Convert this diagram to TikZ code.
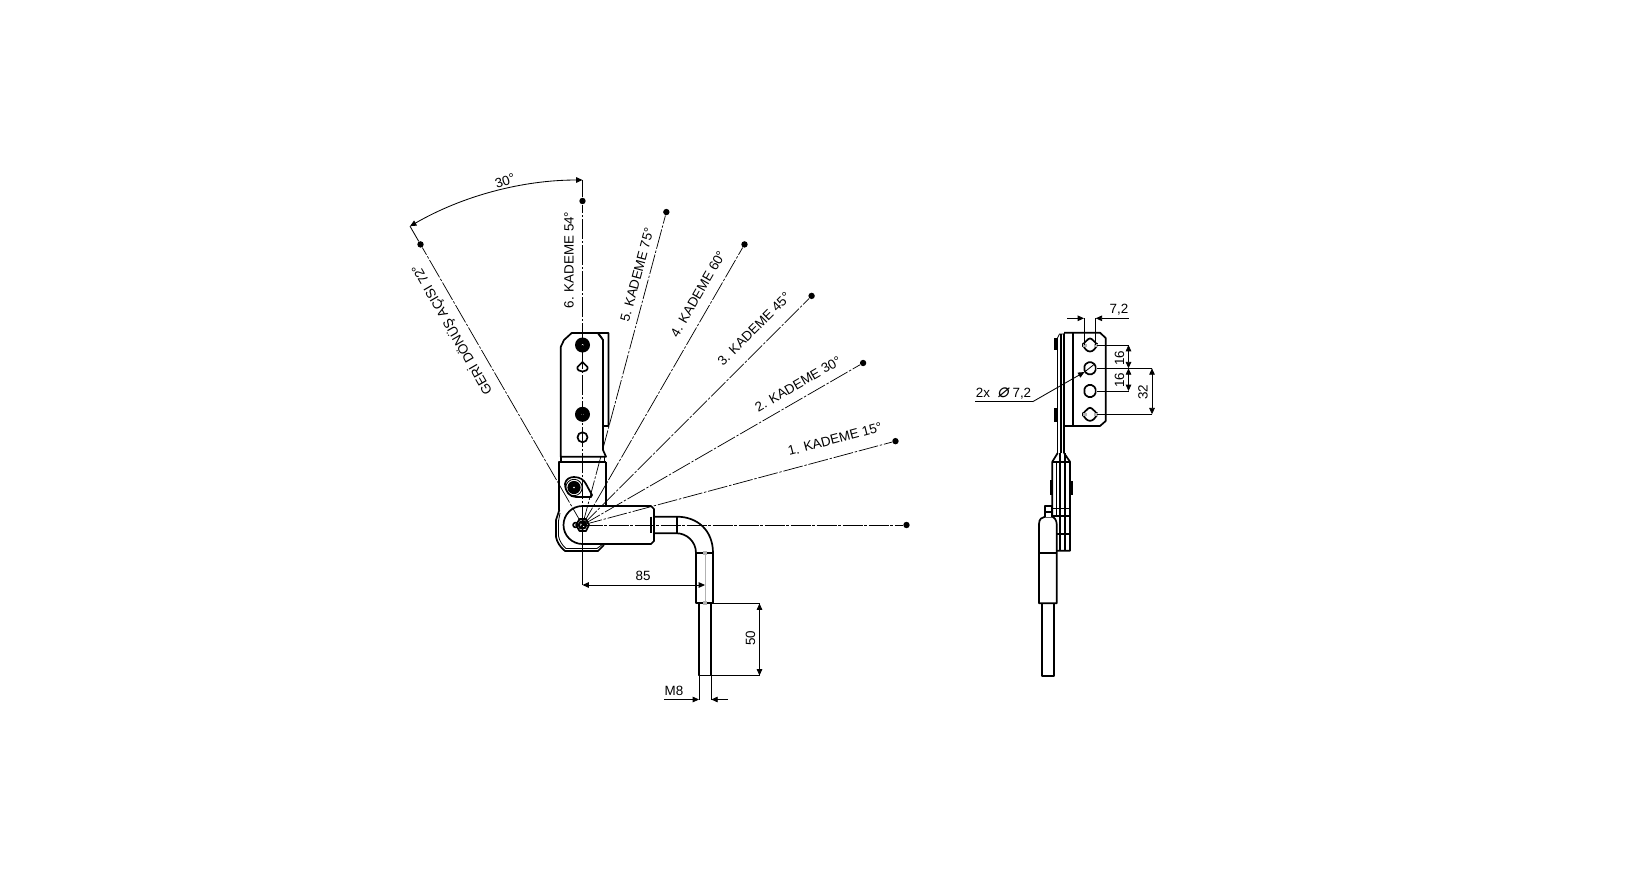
\documentclass[tikz,border=0pt]{standalone}
\usepackage{fontspec}
\setmainfont{Liberation Sans}
\newfontfamily\symfont[FakeSlant=0.2]{DejaVu Sans}
\usetikzlibrary{arrows.meta,calc}
\tikzset{
  thickl/.style={line width=0.85pt,line join=round},
  thinl/.style={line width=0.42pt},
  center/.style={line width=0.36pt,dash pattern=on 10pt off 0.9pt on 1.2pt off 0.9pt},
  dimn/.style={line width=0.42pt,{Triangle[length=3.2pt,width=2.8pt]}-{Triangle[length=3.2pt,width=2.8pt]}},
  onear/.style={line width=0.42pt,-{Triangle[length=3.2pt,width=2.8pt]}},
  lab/.style={inner sep=0pt,font=\fontsize{6.7}{7}\selectfont},
  gdot/.style={fill=black!30,draw=none},
  bdot/.style={circle,fill=black,inner sep=0pt,minimum size=3.2pt}
}
\begin{document}
\begin{tikzpicture}[x=0.5pt,y=-0.5pt]
\useasboundingbox (0,0) rectangle (1645,873);
\coordinate (piv) at (582.5,525);
\path (piv) ++(0:324) node[bdot] (d0) {};
\path (piv) ++(-15:324) node[bdot] (d1) {};
\path (piv) ++(-30:324) node[bdot] (d2) {};
\path (piv) ++(-45:324) node[bdot] (d3) {};
\path (piv) ++(-60:324) node[bdot] (d4) {};
\path (piv) ++(-75:324) node[bdot] (d5) {};
\path (piv) ++(-90:324) node[bdot] (d6) {};
\path (piv) ++(-120:324) node[bdot] (d7) {};
\path (piv) ++(-90:345) coordinate (a6);
\path (piv) ++(-120:345) coordinate (a7);
% radial centre lines
\foreach \n in {d1,d2,d3,d4,d5,d7} \draw[center] (piv) -- (\n);
% hinge plate (hides the radial lines)
\draw[thickl,fill=white] (603,340) -- (598,333) -- (608.5,333) -- (608.5,426) -- (603,426);
\draw[thickl,fill=white] (560.7,456.7) -- (560.7,347) -- (564,340) -- (571.7,333) -- (598,333) -- (603,340) -- (603,450) -- (606,456.7) -- cycle;
\draw[thinl] (598,334) -- (603,340);
\draw[thickl] (606,461.7) -- (606,506);
\draw[thickl] (559.3,510) -- (559.3,461.7) -- (606,461.7);
\draw[thickl] (561,461.7) -- (561,456.7);
\draw[thickl] (604.5,461.7) -- (604.5,456.7);
% lower body
\draw[thickl] (559.3,510) -- (556,520) -- (556,537) .. controls (557,542) and (560,547) .. (565,551) -- (598,551) -- (604,545);
\draw[thinl] (560,513) -- (558.5,521) -- (558.5,536) .. controls (559.5,541) and (562,545) .. (566,548.5) -- (597,548.5) -- (603,544);
% slotted arm
\draw[thickl] (582.5,506) -- (651,506) -- (654,509) -- (654,541) -- (651,544) -- (582.5,544) .. controls (572,544) and (563.5,535.5) .. (563.5,525) .. controls (563.5,514.5) and (572,506) .. (582.5,506);
% cam
\draw[thickl] (565,483.5) .. controls (566,479) and (570,477) .. (574,477) .. controls (580,477) and (584,480) .. (586,484) -- (592,495) -- (591,497) -- (576,497) .. controls (570,497) and (565,492) .. (565,483.5);
\fill (574,487.5) circle[radius=6.6];
\draw[thinl] (574,487.5) circle[radius=8.2];
\fill[white] (574,487.5) circle[radius=0.9];
% pivot nut
\draw[thickl] (589,525) -- (586,519) -- (579.5,519) -- (576,525) -- (579.5,531) -- (586,531) -- cycle;
\draw[line width=1.1pt] (582.5,525) circle[radius=3.6];
\draw[thickl] (575.5,525) circle[radius=2.4];
\draw[thickl] (585,521) -- (580,529);
% plate holes
\fill (582.5,345) circle[radius=7.5];
\fill (582.5,414.3) circle[radius=7.5];
\fill[white] (582.5,345) circle[radius=1];
\fill[white] (582.5,414.3) circle[radius=1];
\draw[thickl] (582.5,362) -- (587.5,367) .. controls (589,373) and (576,373) .. (577.5,367) -- cycle;
\draw[thickl] (582.5,437.3) circle[radius=5];
% rod
\draw[thickl] (654,516.7) -- (677,516.7) .. controls (697,516.7) and (713,530) .. (713,553) -- (713,603) -- (696,603) -- (696,553) .. controls (696,541) and (686,533.3) .. (677,533.3) -- (654,533.3);
\draw[thickl] (676.7,516.7) -- (676.7,533.3);
\draw[thickl] (651,516.7) -- (651,533.3);
\draw[thickl] (696,553) -- (713,553);
\draw[thickl] (699,603) -- (699,675.5) -- (711.3,675.5) -- (711.3,603);
\draw[line width=0.4pt,black!30] (705,553) -- (705,603);
\fill[gdot] (703,551) rectangle (707,555);
\fill[gdot] (703,601) rectangle (707,605);
% axes on top
\draw[center] (piv) -- (d0);
\draw[center] (piv) -- (d6);
\draw[thinl] (d6) -- (a6);
\draw[thinl] (d7) -- (a7);
\draw[thinl] (piv) -- (582.5,585);
% arc dimension
\draw[dimn] (a6) arc[start angle=-90,end angle=-120,radius=345];
\node[lab,rotate=18] (t30) at (505,181) {30°};
% labels
\node[lab,rotate=120] (t7) at (452,329.5) {GERİ DÖNÜŞ AÇISI 72°};
\node[lab,rotate=90] (t6) at (569,260) {6. KADEME 54°};
\node[lab,rotate=75] (t5) at (637,275) {5. KADEME 75°};
\node[lab,rotate=60] (t4) at (698,294) {4. KADEME 60°};
\node[lab,rotate=45] (t3) at (754,329) {3. KADEME 45°};
\node[lab,rotate=30] (t2) at (798,384) {2. KADEME 30°};
\node[lab,rotate=15] (t1) at (835,439) {1. KADEME 15°};
% 85
\coordinate (e85) at (705,585);
\coordinate (s85) at (582.5,585);
\draw[dimn] (s85) -- (e85);
\node[lab] (t85) at (643,576) {85};
% 50
\coordinate (u50) at (759.5,603.5);
\coordinate (l50) at (759.5,675.5);
\draw[thinl] (713,603.5) -- (u50);
\draw[thinl] (711.3,675.5) -- (l50);
\draw[dimn] (u50) -- (l50);
\node[lab,rotate=90] (t50) at (750.5,638) {50};
% M8
\coordinate (m1) at (699,699.5);
\coordinate (m2) at (711.3,699.5);
\coordinate (m0) at (664,699.5);
\coordinate (m3) at (728,699.5);
\draw[thinl] (699,675.5) -- (m1);
\draw[thinl] (711.3,675.5) -- (m2);
\draw[onear] (m0) -- (m1);
\draw[onear] (m3) -- (m2);
\node[lab] (tm8) at (674,691) {M8};
% ---------- right view ----------
\draw[thickl] (1064,333.5) -- (1064,426) -- (1100,426) -- (1105.7,421) -- (1105.7,338) -- (1100,332.7) -- (1064,332.7);
\draw[thickl] (1073,332.7) -- (1073,426);
\draw[thinl] (1057.5,453) -- (1057.5,338) -- (1059.5,334) -- (1064,334);
\draw[thickl] (1061,453) -- (1061,334);
\draw[thickl] (1064,426) -- (1064,453);
\draw[line width=1.2pt] (1055.5,338) -- (1055.5,350);
\draw[line width=1.2pt] (1055.5,408) -- (1055.5,422);
\coordinate (h1) at (1090,345);
\coordinate (h2) at (1090,368.3);
\coordinate (h3) at (1090,391);
\coordinate (h4) at (1090,414.3);
\foreach \hn in {h1,h4}
  \draw[thickl,rounded corners=1.2pt] ($(\hn)+(0,-7.5)$) -- ($(\hn)+(7,-1)$) -- ($(\hn)+(7,1)$) -- ($(\hn)+(2.5,6.5)$) -- ($(\hn)+(-2.5,6.5)$) -- ($(\hn)+(-7,1)$) -- ($(\hn)+(-7,-1)$) -- cycle;
\foreach \hn in {h2,h3}
  \draw[thickl,rounded corners=1pt] ($(\hn)+(-3.5,-6)$) -- ($(\hn)+(3.5,-6)$) -- ($(\hn)+(6.5,0)$) -- ($(\hn)+(3.5,6)$) -- ($(\hn)+(-3.5,6)$) -- ($(\hn)+(-6.5,0)$) -- cycle;
\fill[gdot] (1082.5,343.5) rectangle (1086.5,347);
\fill[gdot] (1093.5,343.5) rectangle (1097.5,347);
\fill[gdot] (1082.5,412.8) rectangle (1086.5,416.3);
\fill[gdot] (1093.5,412.8) rectangle (1097.5,416.3);
% lower right view
\draw[thickl] (1057.7,453) -- (1052.3,461.7) -- (1052.3,515);
\draw[thickl] (1064,453) -- (1070,461.7) -- (1070,550.7) -- (1057,550.7);
\draw[thickl] (1052.3,461.7) -- (1070,461.7);
\draw[thinl] (1056,461.7) -- (1056,515);
\draw[thickl] (1060,453) -- (1060,550.7);
\draw[thickl] (1065,453) -- (1065,550.7);
\draw[thinl] (1052,508) -- (1070,508);
\draw[thickl] (1052,516) -- (1071,516);
\draw[thickl] (1057,534) -- (1071,534);
\draw[line width=1.2pt] (1051,480) -- (1051,495);
\draw[line width=1.2pt] (1071.3,481) -- (1071.3,495);
\draw[thickl,fill=white] (1039,603.3) -- (1039,524) .. controls (1039,519) and (1042,517) .. (1045,516.7) -- (1052,516.7) .. controls (1054,517) and (1056.7,520) .. (1056.7,524) -- (1056.7,603.3) -- cycle;
\draw[thickl] (1039,553.3) -- (1056.7,553.3);
\draw[thickl,fill=white] (1045,516.7) -- (1045,505.7) -- (1051.7,505.7) -- (1051.7,516.7);
\draw[thickl] (1045,512) -- (1051.7,512);
\draw[thickl] (1041.7,603.3) -- (1041.7,675.7) -- (1054.3,675.7) -- (1054.3,603.3);
\draw[thickl] (1041.7,675.7) -- (1054.3,675.7);
% 7,2
\coordinate (w1) at (1084,318.3);
\coordinate (w2) at (1095.7,318.3);
\coordinate (w0) at (1067.3,318.3);
\coordinate (w3) at (1128.5,318.3);
\draw[thinl] (w1) -- (1084,345);
\draw[thinl] (w2) -- (1095.7,345);
\draw[onear] (w0) -- (w1);
\draw[onear] (w3) -- (w2);
\node[lab] (t72) at (1119,310) {7,2};
% 16 / 16 / 32
\coordinate (v1) at (1128.5,345);
\coordinate (v2) at (1128.5,368.3);
\coordinate (v3) at (1128.5,391);
\coordinate (z2) at (1152,368.3);
\coordinate (z4) at (1152,414.3);
\draw[thinl] ($(h1)+(7,0)$) -- (v1);
\draw[thinl] ($(h2)+(6.5,0)$) -- (z2);
\draw[thinl] ($(h3)+(6.5,0)$) -- (v3);
\draw[thinl] ($(h4)+(7,0)$) -- (z4);
\draw[dimn] (v1) -- (v2);
\draw[dimn] (v2) -- (v3);
\draw[dimn] (z2) -- (z4);
\node[lab,rotate=90] (t161) at (1119.5,358) {16};
\node[lab,rotate=90] (t162) at (1119.5,380) {16};
\node[lab,rotate=90] (t32) at (1143,392) {32};
% 2x dia 7,2
\coordinate (la) at (975,401.7);
\coordinate (lb) at (1032.7,401.7);
\coordinate (lc) at (1084.5,372);
\draw[line width=0.42pt] (la) -- (lb);
\draw[onear] (lb) -- (lc);
\draw[thinl] (lc) -- (1094,364.5);
\node[lab] (tdia) at (1003.5,393.5) {2x\ \ {\symfont\fontsize{9.5}{9.5}\selectfont ⌀}\ 7,2};
\end{tikzpicture}
\end{document}
